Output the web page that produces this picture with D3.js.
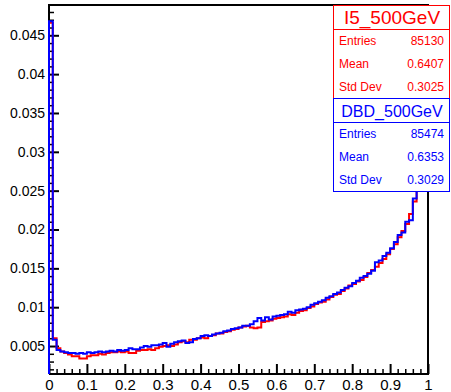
<!DOCTYPE html>
<html>
<head>
<meta charset="utf-8">
<script src="https://cdn.jsdelivr.net/npm/d3@7"></script>
<style>
  body { margin: 0; background: #fff; }
  text { font-family: "Liberation Sans", Arial, sans-serif; }
</style>
</head>
<body>
<svg id="chart" width="451" height="392"></svg>
<script>
// binning: 100 bins on [0, 1]
const nBins = 100;
const xRange = [0, 1];

// normalised bin contents
const i5Values = [
  0.0466, 0.0060, 0.0047, 0.0043, 0.0041, 0.0039, 0.0037, 0.0037, 0.0034, 0.0034,
  0.0037, 0.0038, 0.0038, 0.0040, 0.0039, 0.0041, 0.0042, 0.0042, 0.0043, 0.0042,
  0.0043, 0.0041, 0.0041, 0.0044, 0.0045, 0.0045, 0.0046, 0.0045, 0.0047, 0.0049,
  0.0050, 0.0051, 0.0050, 0.0052, 0.0055, 0.0056, 0.0055, 0.0058, 0.0058, 0.0060,
  0.0061, 0.0060, 0.0063, 0.0064, 0.0066, 0.0066, 0.0068, 0.0069, 0.0071, 0.0072,
  0.0074, 0.0075, 0.0076, 0.0074, 0.0073, 0.0074, 0.0081, 0.0082, 0.0083, 0.0085,
  0.0086, 0.0087, 0.0088, 0.0091, 0.0090, 0.0093, 0.0095, 0.0096, 0.0099, 0.0101,
  0.0104, 0.0106, 0.0107, 0.0110, 0.0113, 0.0116, 0.0117, 0.0121, 0.0124, 0.0128,
  0.0130, 0.0133, 0.0135, 0.0139, 0.0144, 0.0148, 0.0152, 0.0157, 0.0162, 0.0168,
  0.0175, 0.0181, 0.0190, 0.0198, 0.0207, 0.0220, 0.0236, 0.0258, 0.0290, 0.0345
];
const dbdValues = [
  0.0468, 0.0058, 0.0045, 0.0043, 0.0042, 0.0041, 0.0041, 0.0040, 0.0041, 0.0040,
  0.0042, 0.0041, 0.0042, 0.0043, 0.0042, 0.0043, 0.0044, 0.0043, 0.0045, 0.0044,
  0.0045, 0.0047, 0.0046, 0.0046, 0.0048, 0.0050, 0.0049, 0.0051, 0.0051, 0.0052,
  0.0054, 0.0049, 0.0053, 0.0055, 0.0056, 0.0057, 0.0054, 0.0055, 0.0059, 0.0060,
  0.0063, 0.0064, 0.0063, 0.0065, 0.0066, 0.0067, 0.0069, 0.0070, 0.0072, 0.0073,
  0.0074, 0.0076, 0.0076, 0.0078, 0.0082, 0.0086, 0.0083, 0.0087, 0.0084, 0.0088,
  0.0089, 0.0090, 0.0091, 0.0094, 0.0093, 0.0096, 0.0097, 0.0098, 0.0100, 0.0103,
  0.0105, 0.0107, 0.0109, 0.0112, 0.0114, 0.0117, 0.0119, 0.0122, 0.0125, 0.0127,
  0.0131, 0.0134, 0.0138, 0.0140, 0.0143, 0.0147, 0.0158, 0.0160, 0.0166, 0.0170,
  0.0176, 0.0184, 0.0193, 0.0196, 0.0210, 0.0212, 0.0240, 0.0254, 0.0285, 0.0340
];

// axis ticks and labels
const xTicks = [0, 0.1, 0.2, 0.3, 0.4, 0.5, 0.6, 0.7, 0.8, 0.9, 1];
const xTickLabels = ["0", "0.1", "0.2", "0.3", "0.4", "0.5", "0.6", "0.7", "0.8", "0.9", "1"];
const yTicks = [0.005, 0.01, 0.015, 0.02, 0.025, 0.03, 0.035, 0.04, 0.045];
const yTickLabels = ["0.005", "0.01", "0.015", "0.02", "0.025", "0.03", "0.035", "0.04", "0.045"];
const yDomain = [0.0014, 0.0489];

// stat boxes
const statNames = ["I5_500GeV", "DBD_500GeV"];
const statLabels = ["Entries", "Mean", "Std Dev"];
const statI5 = ["85130", "0.6407", "0.3025"];
const statDBD = ["85474", "0.6353", "0.3029"];

const svg = d3.select("#chart");
const frame = { left: 49, right: 428, top: 5, bottom: 374 };

const x = d3.scaleLinear().domain(xRange).range([frame.left, frame.right]);
const y = d3.scaleLinear().domain(yDomain).range([frame.bottom, frame.top]);

svg.append("rect").attr("width", 451).attr("height", 392).attr("fill", "#fff");

// minor ticks
const xMinor = d3.range(0, 1.0001, 0.02).map(d => +d.toFixed(2)).filter(d => !xTicks.includes(d));
const yMinor = d3.range(0.002, yDomain[1], 0.001).map(d => +d.toFixed(3)).filter(d => !yTicks.includes(d));

function styleAxis(g, w, fs) {
  g.select(".domain").remove();
  g.selectAll("line").attr("stroke", "#000").attr("stroke-width", w);
  g.selectAll("text").attr("fill", "#000").style("font-size", fs + "px");
}

svg.append("g")
  .attr("transform", `translate(0,${frame.bottom})`)
  .call(d3.axisBottom(x).tickValues(xMinor).tickSize(-5).tickFormat(""))
  .call(g => styleAxis(g, 1.5, 14));

svg.append("g")
  .attr("transform", `translate(0,${frame.bottom})`)
  .call(d3.axisBottom(x).tickValues(xTicks).tickSize(-10).tickPadding(4)
    .tickFormat((d, i) => xTickLabels[i]))
  .call(g => styleAxis(g, 2, 15))
  .call(g => g.selectAll("text").attr("y", 16).attr("dy", null));

svg.append("g")
  .attr("transform", `translate(${frame.left},0)`)
  .call(d3.axisLeft(y).tickValues(yMinor).tickSize(-5).tickFormat(""))
  .call(g => styleAxis(g, 1.5, 14));

svg.append("g")
  .attr("transform", `translate(${frame.left},0)`)
  .call(d3.axisLeft(y).tickValues(yTicks).tickSize(-10).tickPadding(4)
    .tickFormat((d, i) => yTickLabels[i]))
  .call(g => styleAxis(g, 2, 14));

// frame
svg.append("path")
  .attr("d", `M${frame.left},${frame.bottom}V${frame.top}H${frame.right}V${frame.bottom}H${frame.left}`)
  .attr("fill", "none")
  .attr("stroke", "#000")
  .attr("stroke-width", 2);

// histogram outlines
const binW = (xRange[1] - xRange[0]) / nBins;
function histPath(values) {
  const p = d3.path();
  p.moveTo(x(0), y(yDomain[0]));
  values.forEach((v, i) => {
    p.lineTo(x(i * binW), y(v));
    p.lineTo(x((i + 1) * binW), y(v));
  });
  return p.toString();
}

svg.append("path")
  .attr("d", histPath(i5Values))
  .attr("fill", "none")
  .attr("stroke", "#ff0000")
  .attr("stroke-width", 2);

svg.append("path")
  .attr("d", histPath(dbdValues))
  .attr("fill", "none")
  .attr("stroke", "#0000ff")
  .attr("stroke-width", 2);

// stat boxes
function statBox(top, name, values, color, titleSize) {
  const left = 333, right = 449, titleH = 24, rowH = 23;
  const g = svg.append("g");
  g.append("rect")
    .attr("x", left + 0.5).attr("y", top + 0.5)
    .attr("width", right - left).attr("height", titleH + rowH * 3)
    .attr("fill", "#fff").attr("stroke", color).attr("stroke-width", 1);
  g.append("line")
    .attr("x1", left).attr("x2", right)
    .attr("y1", top + titleH + 0.5).attr("y2", top + titleH + 0.5)
    .attr("stroke", color);
  g.append("text")
    .attr("x", (left + right) / 2 + 1).attr("y", top + titleH - 5)
    .attr("text-anchor", "middle").attr("fill", color)
    .style("font-size", titleSize + "px")
    .text(name);
  statLabels.forEach((lab, i) => {
    const by = top + titleH + 16 + i * rowH;
    g.append("text").attr("x", left + 6).attr("y", by)
      .attr("fill", color).style("font-size", "12px").text(lab);
    g.append("text").attr("x", right - 5).attr("y", by)
      .attr("text-anchor", "end").attr("fill", color).style("font-size", "12px").text(values[i]);
  });
}

statBox(5, statNames[0], statI5, "#ff0000", 19);
statBox(98, statNames[1], statDBD, "#0000ff", 16);
</script>
</body>
</html>
